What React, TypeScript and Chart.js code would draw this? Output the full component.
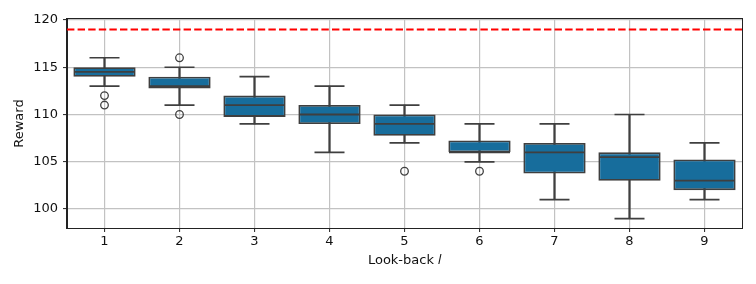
import React, { useEffect, useRef } from 'react';
import { Chart, registerables } from 'chart.js';

Chart.register(...registerables);

// ---- data ----
const LOOKBACK = ['1', '2', '3', '4', '5', '6', '7', '8', '9'];
const WHISKER_LOW = [113, 111, 109, 106, 107, 105, 101, 99, 101];
const Q1 = [114, 112.75, 109.75, 109, 107.75, 106, 103.75, 103, 102];
const MEDIAN = [114.5, 113, 111, 110, 109, 106, 106, 105.5, 103];
const Q3 = [115, 114, 112, 111, 110, 107.25, 107, 106, 105.25];
const WHISKER_HIGH = [116, 115, 114, 113, 111, 109, 109, 110, 107];
const OUTLIER_CATEGORY = ['1', '1', '2', '2', '5', '6'];
const OUTLIER_VALUE = [112, 111, 116, 110, 104, 104];
const REFERENCE_REWARD = 119;
const Y_TICKS = [100, 105, 110, 115, 120];

const BOX_FILL = '#176D9C';
const LINE_GRAY = '#3f3f3f';
const GRID = '#c2c2c2';
const FONT = 'DejaVu Sans';

const framePlugin = {
  id: 'frame',
  afterDraw(chart: any) {
    const { ctx, chartArea } = chart;
    const { left, top, right, bottom } = chartArea;
    ctx.save();
    ctx.strokeStyle = '#222';
    ctx.lineWidth = 1;
    ctx.strokeRect(Math.round(left) - 0.5, Math.round(top) - 0.5, Math.round(right - left) + 1, Math.round(bottom - top) + 1);
    ctx.restore();
  },
};

export default function App() {
  const canvasRef = useRef<HTMLCanvasElement | null>(null);

  useEffect(() => {
    document.body.style.margin = '0';
    const canvas = canvasRef.current;
    if (!canvas) return;

    const boxes = LOOKBACK.map((_, i) => [Q1[i], Q3[i]]);
    const whiskers = LOOKBACK.map((_, i) => [WHISKER_LOW[i], WHISKER_HIGH[i]]);
    const outliers = OUTLIER_CATEGORY.map((c, i) => ({ x: c, y: OUTLIER_VALUE[i] }));

    const chart = new Chart(canvas, {
      type: 'bar',
      data: {
        labels: LOOKBACK,
        datasets: [
          {
            type: 'line',
            data: outliers as any,
            showLine: false,
            pointStyle: 'circle',
            pointRadius: 3.8,
            pointBorderWidth: 1.3,
            pointBorderColor: LINE_GRAY,
            pointBackgroundColor: 'rgba(0,0,0,0)',
            order: 0,
          } as any,
          {
            type: 'line',
            data: MEDIAN,
            showLine: false,
            pointStyle: 'line',
            pointRadius: 30.5,
            pointBorderWidth: 1.8,
            pointBorderColor: LINE_GRAY,
            order: 1,
          } as any,
          {
            type: 'line',
            data: WHISKER_HIGH,
            showLine: false,
            pointStyle: 'line',
            pointRadius: 15,
            pointBorderWidth: 1.7,
            pointBorderColor: LINE_GRAY,
            order: 2,
          } as any,
          {
            type: 'line',
            data: WHISKER_LOW,
            showLine: false,
            pointStyle: 'line',
            pointRadius: 15,
            pointBorderWidth: 1.7,
            pointBorderColor: LINE_GRAY,
            order: 2,
          } as any,
          {
            type: 'bar',
            data: boxes as any,
            backgroundColor: BOX_FILL,
            borderColor: LINE_GRAY,
            borderWidth: 1.8,
            borderSkipped: false,
            grouped: false,
            barPercentage: 0.83,
            categoryPercentage: 1,
            order: 3,
          } as any,
          {
            type: 'bar',
            data: whiskers as any,
            backgroundColor: LINE_GRAY,
            borderWidth: 0,
            grouped: false,
            barThickness: 1.6,
            order: 4,
          } as any,
          {
            type: 'line',
            xAxisID: 'xref',
            data: [
              { x: 0.5, y: REFERENCE_REWARD },
              { x: 9.5, y: REFERENCE_REWARD },
            ],
            borderColor: '#ff0000',
            borderWidth: 2,
            borderDash: [7.4, 3.2],
            pointRadius: 0,
            order: 5,
          } as any,
        ],
      },
      options: {
        responsive: false,
        animation: false,
        layout: { autoPadding: false, padding: { left: 0, top: 19, right: 14, bottom: 0 } },
        plugins: {
          legend: { display: false },
          tooltip: { enabled: false },
        },
        scales: {
          x: {
            type: 'category',
            offset: true,
            grid: {
              offset: false,
              color: GRID,
              lineWidth: 1.2,
              tickLength: 4,
              tickColor: '#222',
              tickWidth: 1,
            },
            border: { display: true, color: '#222', width: 1 },
            ticks: { color: '#111', font: { family: FONT, size: 13 }, padding: 2, maxRotation: 0 },
            title: {
              display: true,
              text: 'Look-back 𝑙',
              color: '#111',
              font: { family: FONT, size: 13 },
              padding: { top: 0, bottom: 16 },
            },
            afterFit(scale: any) {
              scale.height = 56;
            },
          },
          xref: {
            type: 'linear',
            display: false,
            offset: false,
            min: 0.5,
            max: 9.5,
          },
          y: {
            type: 'linear',
            min: 98,
            max: 120.1,
            grid: {
              color: GRID,
              lineWidth: 1.2,
              tickLength: 4,
              tickColor: '#222',
              tickWidth: 1,
            },
            border: { display: true, color: '#222', width: 1 },
            ticks: { color: '#111', font: { family: FONT, size: 13 }, padding: 5 },
            afterBuildTicks(scale: any) {
              scale.ticks = Y_TICKS.map((v) => ({ value: v }));
            },
            title: {
              display: true,
              text: 'Reward',
              color: '#111',
              font: { family: FONT, size: 13 },
              padding: { top: 12, bottom: 0 },
            },
            afterFit(scale: any) {
              scale.width = 67;
            },
          },
        },
      },
      plugins: [framePlugin],
    });

    return () => chart.destroy();
  }, []);

  return (
    <div style={{ width: 756, height: 284 }}>
      <canvas ref={canvasRef} width={756} height={284} />
    </div>
  );
}
